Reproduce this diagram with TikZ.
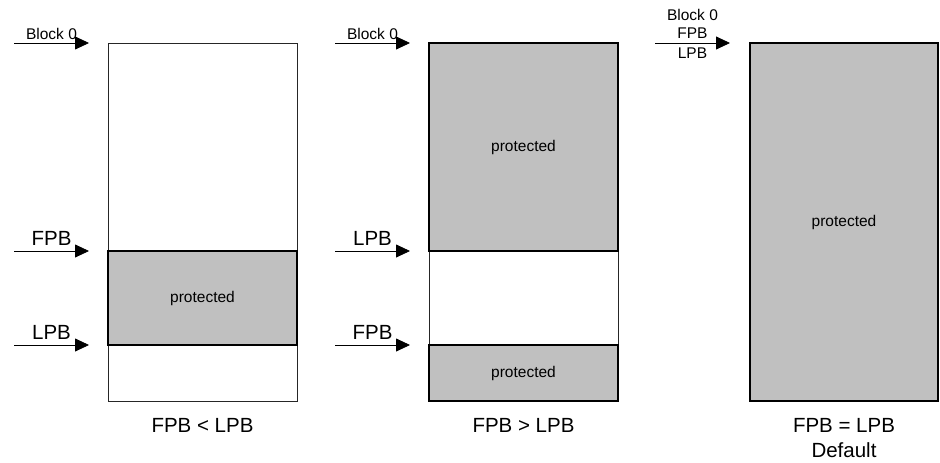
\documentclass[tikz,border=0pt]{standalone}
\usepackage{fontspec}
\setmainfont{Liberation Sans}
\usepackage{tikz}
\usetikzlibrary{arrows.meta,positioning,calc}
\definecolor{shade}{RGB}{192,192,192}

\begin{document}
\begin{tikzpicture}[x=1pt, y=-1pt, >={Triangle[length=14pt,width=13pt]},
    mem/.style={draw=black!85, line width=0.8pt, minimum width=189pt, minimum height=358pt, inner sep=0pt, outer sep=0pt, anchor=north west},
    prot/.style={draw, line width=1.6pt, fill=shade, minimum width=189pt, inner sep=0pt, outer sep=0pt, anchor=north west, font=\fontsize{15.5}{18}\selectfont},
    ptr/.style={->, line width=0.8pt},
    small/.style={font=\fontsize{15.5}{18.5}\selectfont, inner sep=1pt},
    big/.style={font=\fontsize{20.5}{25}\selectfont, inner sep=1pt}]
    \useasboundingbox (0,0) rectangle (940,463);

    % FPB < LPB
    \node[mem] (m1) at (108,43) {};
    \node[prot, minimum height=94pt] (p1) at (108,251) {protected};
    \draw[ptr] ([xshift=-94pt]m1.north west) -- ([xshift=-19pt]m1.north west) node[midway, small, anchor=base, yshift=4pt] {Block 0};
    \draw[ptr] ([xshift=-94pt]p1.north west) -- ([xshift=-19pt]p1.north west) node[midway, big, anchor=base, yshift=6pt] {FPB};
    \draw[ptr] ([xshift=-94pt]p1.south west) -- ([xshift=-19pt]p1.south west) node[midway, big, anchor=base, yshift=6pt] {LPB};
    \node[big, below=16pt of m1] (c1) {FPB < LPB};

    % FPB > LPB
    \node[mem] (m2) at (429,43) {};
    \node[prot, minimum height=208pt] (p2a) at (429,43) {protected};
    \node[prot, minimum height=56pt] (p2b) at (429,345) {protected};
    \draw[ptr] ([xshift=-94pt]m2.north west) -- ([xshift=-19pt]m2.north west) node[midway, small, anchor=base, yshift=4pt] {Block 0};
    \draw[ptr] ([xshift=-94pt]p2a.south west) -- ([xshift=-19pt]p2a.south west) node[midway, big, anchor=base, yshift=6pt] {LPB};
    \draw[ptr] ([xshift=-94pt]p2b.north west) -- ([xshift=-19pt]p2b.north west) node[midway, big, anchor=base, yshift=6pt] {FPB};
    \node[big, below=16pt of m2] (c2) {FPB > LPB};

    % FPB = LPB (default)
    \node[prot, minimum width=188pt, minimum height=358pt] (p3) at (750,43) {protected};
    \draw[ptr] ([xshift=-95pt]p3.north west) -- ([xshift=-20pt]p3.north west)
        node[midway, small, align=center, above=3pt] {Block 0\\FPB}
        node[midway, small, below=3pt] {LPB};
    \node[big, align=center, below=16pt of p3] (c3) {FPB = LPB\\Default};
\end{tikzpicture}
\end{document}
